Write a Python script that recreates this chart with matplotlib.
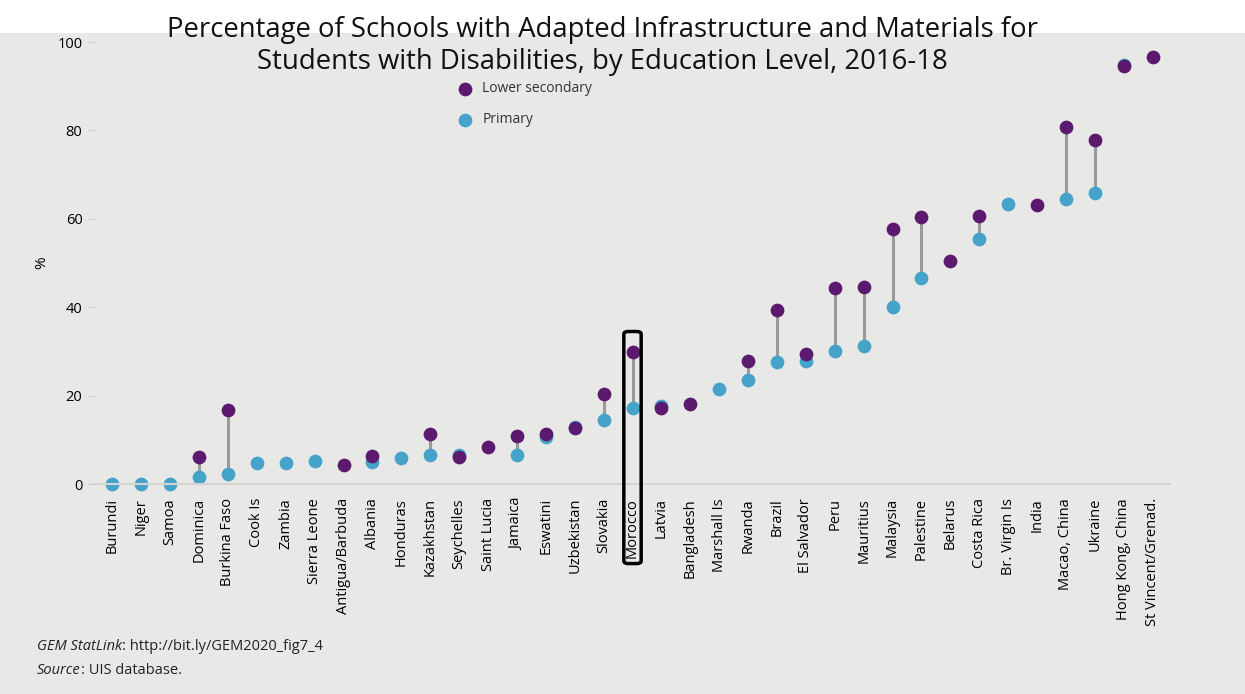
import numpy as np
import matplotlib.pyplot as plt
from matplotlib.patches import FancyBboxPatch, Rectangle

# Data (% of schools)
countries = ['Burundi', 'Niger', 'Samoa', 'Dominica', 'Burkina Faso', 'Cook Is',
             'Zambia', 'Sierra Leone', 'Antigua/Barbuda', 'Albania', 'Honduras',
             'Kazakhstan', 'Seychelles', 'Saint Lucia', 'Jamaica', 'Eswatini',
             'Uzbekistan', 'Slovakia', 'Morocco', 'Latvia', 'Bangladesh',
             'Marshall Is', 'Rwanda', 'Brazil', 'El Salvador', 'Peru', 'Mauritius',
             'Malaysia', 'Palestine', 'Belarus', 'Costa Rica', 'Br. Virgin Is',
             'India', 'Macao, China', 'Ukraine', 'Hong Kong, China',
             'St Vincent/Grenad.']
primary = [0, 0, 0, 1.5, 2.2, 4.7, 4.7, 5.1, np.nan, 5.0, 5.9,
           6.6, 6.5, np.nan, 6.6, 10.6, 12.8, 14.5, 17.3, 17.6, np.nan,
           21.4, 23.5, 27.5, 27.9, 30.1, 31.3, 40.0, 46.5, np.nan, 55.5, 63.4,
           np.nan, 64.5, 65.8, 94.8, np.nan]
lower_secondary = [np.nan, np.nan, np.nan, 6.0, 16.8, np.nan, np.nan, np.nan, 4.4, 6.4, np.nan,
                   11.3, 6.0, 8.3, 10.9, 11.3, 12.6, 20.4, 29.8, 17.1, 18.1,
                   np.nan, 27.8, 39.4, 29.5, 44.3, 44.6, 57.8, 60.3, 50.4, 60.7, np.nan,
                   63.1, 80.8, 77.9, 94.5, 96.7]
highlight = 'Morocco'

purple = '#5b1a6e'
blue = '#45a3c9'
bg = '#e8e9e6'

plt.rcParams['font.family'] = ['Open Sans', 'DejaVu Sans']

fig = plt.figure(figsize=(12.45, 6.94), dpi=100, facecolor=bg)
# white strip of the screenshot at top
fig.patches.append(Rectangle((0, 1 - 33 / 694), 1, 33 / 694, transform=fig.transFigure,
                             facecolor='white', edgecolor='none', zorder=0))

ax = fig.add_axes([95 / 1245, 1 - 484 / 694, (1170 - 95) / 1245, (484 - 42) / 694])
ax.set_facecolor(bg)

x = np.arange(len(countries))
p = np.array(primary, dtype=float)
s = np.array(lower_secondary, dtype=float)

# connecting lines
for xi, a, b in zip(x, p, s):
    if not (np.isnan(a) or np.isnan(b)):
        ax.plot([xi, xi], [a, b], color='#9a9a9a', lw=2.2, zorder=1)

ax.scatter(x, p, s=98, color=blue, linewidths=0, zorder=2, clip_on=False)
ax.scatter(x, s, s=98, color=purple, linewidths=0, zorder=3, clip_on=False)

ax.set_xlim(-0.6, 36.6)
ax.set_ylim(0, 100)
ax.set_yticks([0, 20, 40, 60, 80, 100])
ax.tick_params(axis='y', length=5, color='#cccccc', labelsize=10.5, pad=4)
ax.set_xticks(x)
ax.set_xticklabels(countries, rotation=90, fontsize=10.5)
ax.tick_params(axis='x', length=0, pad=10)
for sp in ['top', 'right', 'left']:
    ax.spines[sp].set_visible(False)
ax.spines['bottom'].set_color('#d4d4d4')
ax.spines['bottom'].set_linewidth(1.5)
ax.set_ylabel('%', fontsize=11, labelpad=6)

# highlight box around Morocco
i = countries.index(highlight)
box = FancyBboxPatch((i - 0.3, -18.0), 0.6, 52.5,
                     boxstyle='round,pad=0,rounding_size=0.15',
                     mutation_aspect=4,
                     facecolor='none', edgecolor='black', lw=2.5,
                     clip_on=False, zorder=4)
ax.add_patch(box)

# legend, drawn manually as in the original
ax.scatter([12.2], [89.4], s=98, color=purple, linewidths=0, clip_on=False)
ax.text(12.8, 89.4, 'Lower secondary', fontsize=10, va='center', color='#333333')
ax.scatter([12.2], [82.4], s=98, color=blue, linewidths=0, clip_on=False)
ax.text(12.8, 82.4, 'Primary', fontsize=10, va='center', color='#333333')

fig.text(0.484, 1 - 30 / 694,
         'Percentage of Schools with Adapted Infrastructure and Materials for',
         ha='center', va='center', fontsize=19.8, color='#111111')
fig.text(0.484, 1 - 62 / 694,
         'Students with Disabilities, by Education Level, 2016-18',
         ha='center', va='center', fontsize=19.8, color='#111111')

# footer: italic lead word followed by plain text
renderer = fig.canvas.get_renderer()
for lead, rest, ypx in [('GEM StatLink', ': http://bit.ly/GEM2020_fig7_4', 647),
                        ('Source', ': UIS database.', 671)]:
    t = fig.text(37 / 1245, 1 - ypx / 694, lead, style='italic', fontsize=10.5,
                 va='center', color='#222222')
    bb = t.get_window_extent(renderer)
    fig.text(bb.x1 / 1245, 1 - ypx / 694, rest, fontsize=10.5,
             va='center', color='#222222')

fig.savefig('out.png', dpi=100, facecolor=bg)
